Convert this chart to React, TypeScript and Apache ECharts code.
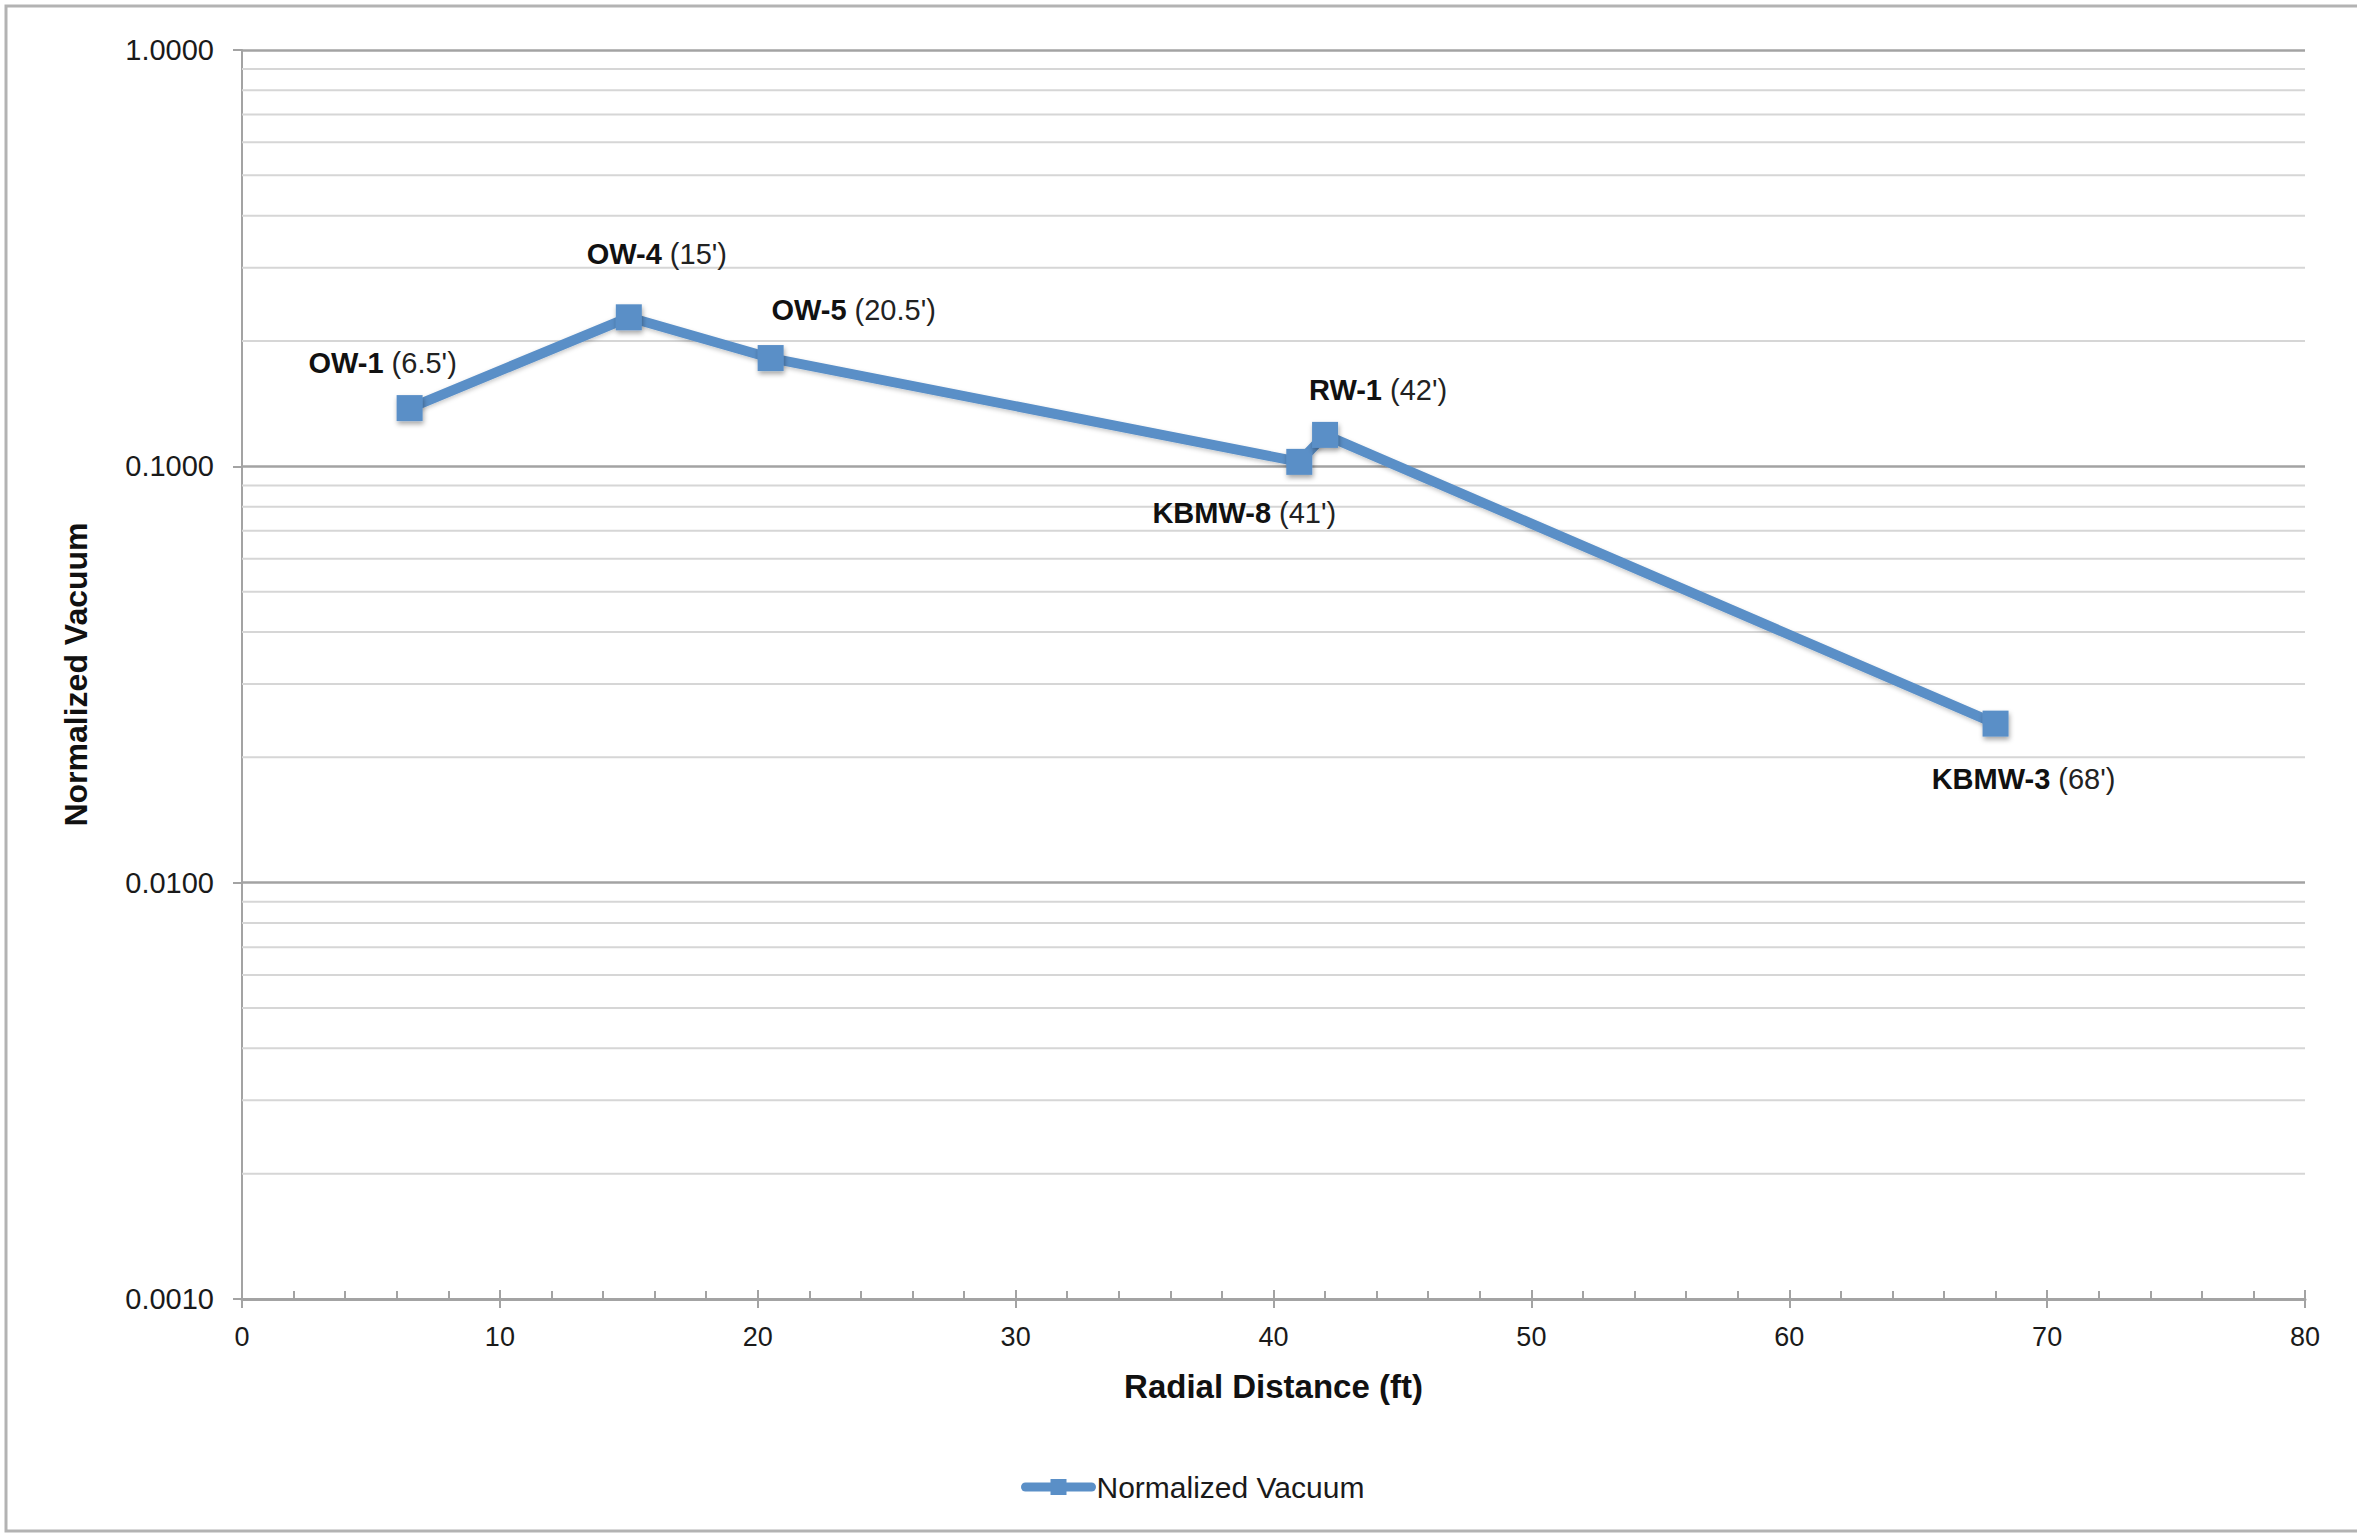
import React, { useEffect, useRef } from "react";
import * as echarts from "echarts";

const wellNames = ["OW-1", "OW-4", "OW-5", "KBMW-8", "RW-1", "KBMW-3"];
const distLabels = ["(6.5')", "(15')", "(20.5')", "(41')", "(42')", "(68')"];
const distances = [6.5, 15, 20.5, 41, 42, 68];
const vacuum = [0.138, 0.228, 0.182, 0.1025, 0.119, 0.0241];
const labelOffsets: [number, number][] = [
  [-27, -45],
  [28, -63],
  [83, -48],
  [-55, 51],
  [53, -45],
  [28, 55],
];
const minorGridValues = [
  0.002, 0.003, 0.004, 0.005, 0.006, 0.007, 0.008, 0.009,
  0.02, 0.03, 0.04, 0.05, 0.06, 0.07, 0.08, 0.09,
  0.2, 0.3, 0.4, 0.5, 0.6, 0.7, 0.8, 0.9,
];
const xRange = [0, 80];
const seriesName = "Normalized Vacuum";
const xTitle = "Radial Distance (ft)";
const yTitle = "Normalized Vacuum";

const FONT = "'Liberation Sans', Arial, Helvetica, sans-serif";
const BLUE = "#5a8fc7";
const AXIS_GRAY = "#a3a3a3";

export default function App() {
  const ref = useRef<HTMLDivElement>(null);
  useEffect(() => {
    document.body.style.margin = "0";
    if (!ref.current) return;
    const chart = echarts.init(ref.current, null, { renderer: "svg" });
    const data = distances.map((d, i) => ({
      value: [d, vacuum[i]],
      name: wellNames[i],
      label: { offset: labelOffsets[i] },
    }));
    const gridSeries = minorGridValues.map((v, i) => ({
      name: "minor-grid-" + i,
      type: "line",
      xAxisIndex: 0,
      data: [
        [xRange[0], v],
        [xRange[1], v],
      ],
      symbol: "none",
      silent: true,
      lineStyle: { color: "#d6d6d6", width: 2 },
      z: 1,
      label: { show: false },
      emphasis: { disabled: true },
      tooltip: { show: false },
    }));
    chart.setOption({
      animation: false,
      backgroundColor: "#ffffff",
      textStyle: { fontFamily: FONT },
      graphic: [
        {
          type: "rect",
          shape: { x: 6, y: 6, width: 2420, height: 1525 },
          style: { fill: "none", stroke: "#b3b3b3", lineWidth: 3 },
          silent: true,
          z: -10,
        },
      ],
      grid: { left: 242, right: 52, top: 50, bottom: 236 },
      legend: {
        show: true,
        left: 1021,
        top: 1472,
        padding: 0,
        itemWidth: 66,
        itemHeight: 20,
        itemGap: 4,
        lineStyle: { width: 9, color: BLUE, cap: "round" },
        itemStyle: { color: BLUE },
        textStyle: { fontSize: 30, color: "#1a1a1a", fontFamily: FONT },
        data: [seriesName],
      },
      xAxis: [
        {
          type: "value",
          min: xRange[0],
          max: xRange[1],
          interval: 10,
          position: "bottom",
          name: xTitle,
          nameLocation: "middle",
          nameGap: 71,
          nameTextStyle: { fontSize: 33, fontWeight: "bold", color: "#111", fontFamily: FONT },
          axisLine: { show: true, lineStyle: { color: AXIS_GRAY, width: 3 } },
          axisTick: { show: true, inside: true, length: 9, lineStyle: { color: AXIS_GRAY, width: 2 } },
          minorTick: { show: true, splitNumber: 5, length: 8, lineStyle: { color: AXIS_GRAY, width: 2 } },
          axisLabel: { fontSize: 27, color: "#1a1a1a", margin: 24, fontFamily: FONT },
          splitLine: { show: false },
        },
        {
          type: "value",
          min: xRange[0],
          max: xRange[1],
          interval: 10,
          position: "bottom",
          axisLine: { show: false },
          axisTick: { show: true, inside: false, length: 9, lineStyle: { color: AXIS_GRAY, width: 2 } },
          axisLabel: { show: false },
          splitLine: { show: false },
        },
      ],
      yAxis: {
        type: "log",
        logBase: 10,
        min: 0.001,
        max: 1,
        splitNumber: 3,
        name: yTitle,
        nameLocation: "middle",
        nameGap: 150,
        nameRotate: 90,
        nameTextStyle: { fontSize: 32, fontWeight: "bold", color: "#111", fontFamily: FONT },
        axisLine: { show: true, lineStyle: { color: AXIS_GRAY, width: 2 } },
        axisTick: { show: true, length: 9, lineStyle: { color: AXIS_GRAY, width: 2 } },
        axisLabel: {
          fontSize: 29,
          color: "#1a1a1a",
          margin: 28,
          fontFamily: FONT,
          formatter: (v: number) => v.toFixed(4),
        },
        splitLine: { show: true, lineStyle: { color: AXIS_GRAY, width: 2.5 } },
      },
      series: [
        ...gridSeries,
        {
          name: seriesName,
          type: "line",
          xAxisIndex: 0,
          data,
          symbol: "rect",
          symbolSize: 26,
          lineStyle: {
            color: BLUE,
            width: 10,
            shadowColor: "rgba(0,0,0,0.22)",
            shadowBlur: 4,
            shadowOffsetY: 2,
          },
          itemStyle: {
            color: BLUE,
            shadowColor: "rgba(0,0,0,0.35)",
            shadowBlur: 5,
            shadowOffsetX: 1,
            shadowOffsetY: 3,
          },
          label: {
            show: true,
            position: "inside",
            align: "center",
            verticalAlign: "middle",
            formatter: (p: any) => `{b|${p.name}\u00a0}{n|${distLabels[p.dataIndex]}}`,
            rich: {
              b: { fontSize: 29, fontWeight: "bold", color: "#111", fontFamily: FONT },
              n: { fontSize: 29, color: "#222", fontFamily: FONT },
            },
          },
          z: 3,
        },
      ],
    });
    return () => chart.dispose();
  }, []);
  return (
    <div
      ref={ref}
      style={{ position: "fixed", left: 0, top: 0, width: 2357, height: 1535 }}
    />
  );
}
